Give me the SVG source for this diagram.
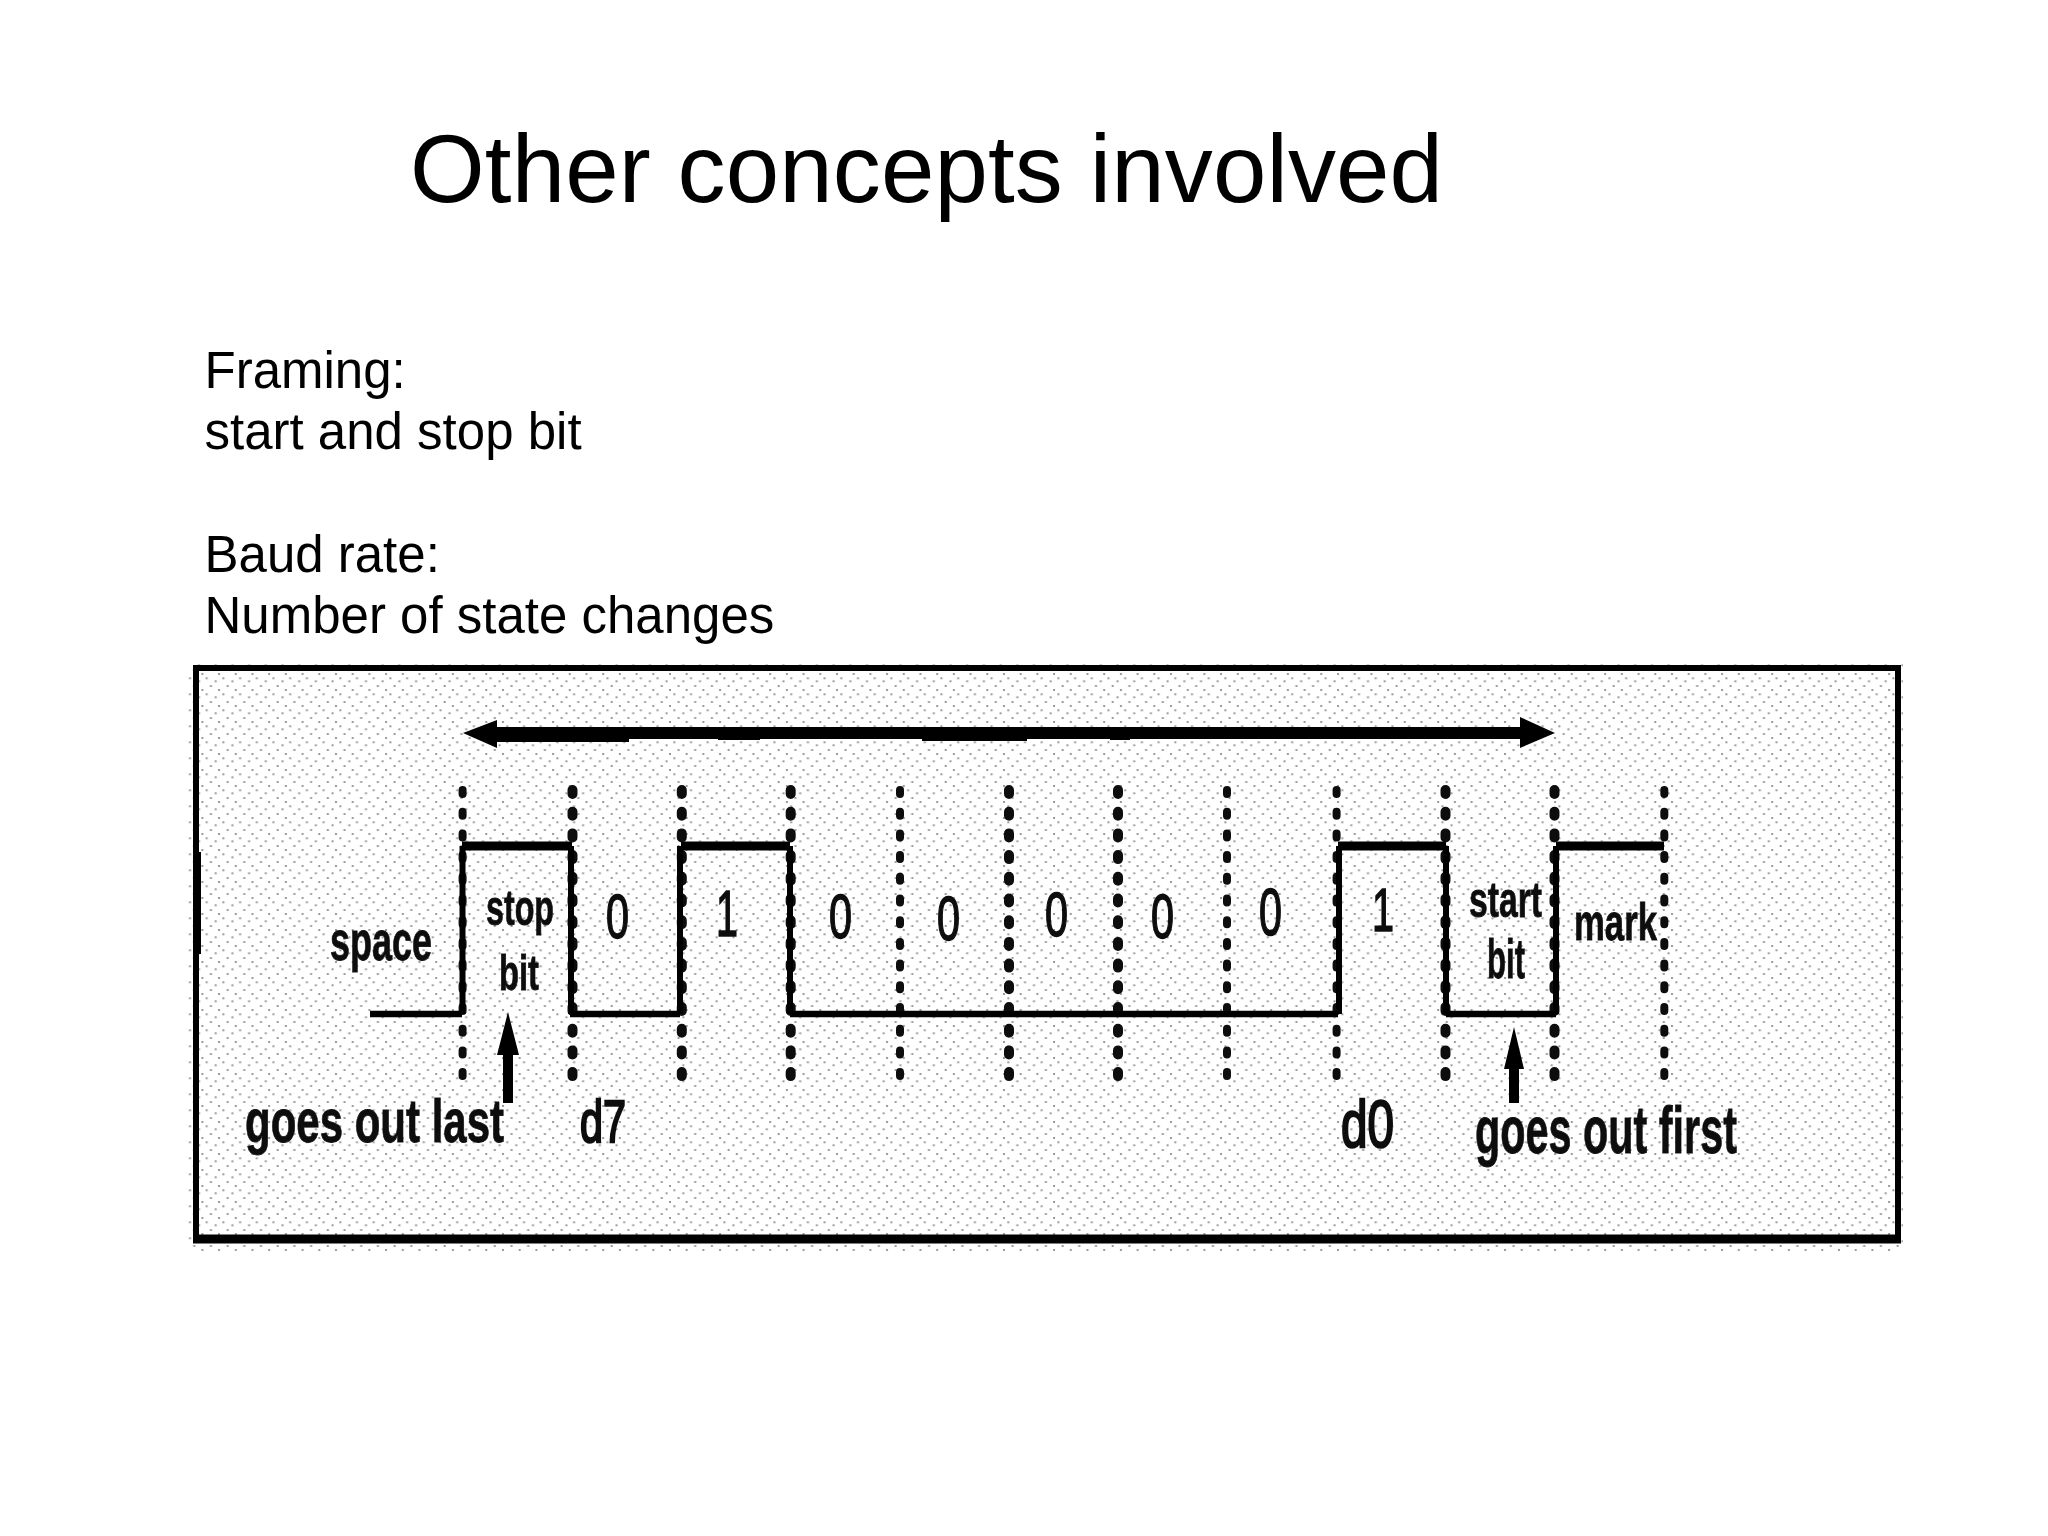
<svg xmlns="http://www.w3.org/2000/svg" width="2048" height="1536" viewBox="0 0 2048 1536">
<style>
.t{font-family:"Liberation Sans",Arial,sans-serif;fill:#000}
.b{font-family:"Liberation Sans",Arial,sans-serif;font-weight:bold;fill:#111;stroke:#111;stroke-width:.8}
.r{font-family:"Liberation Sans",Arial,sans-serif;fill:#111;stroke:#111;stroke-width:1.6}
.d{stroke-width:2.4}
.dot{fill:none;stroke:#111;stroke-width:8;stroke-linecap:round;stroke-dasharray:4 17.7}
.wide{stroke-width:10}
.hi{fill:none;stroke:#000;stroke-width:9}
.lo{fill:none;stroke:#000;stroke-width:6.5}
.ve{fill:none;stroke:#000;stroke-width:6}
</style>
<defs>
<pattern id="halftone" width="16.7" height="16" patternUnits="userSpaceOnUse">
<rect x="1" y="1" width="2" height="2" fill="#9a9a9a"/><rect x="5.3" y="5.3" width="2" height="2" fill="#9a9a9a"/><rect x="14.3" y="8.3" width="2" height="2" fill="#9a9a9a"/><rect x="9.5" y="13" width="2" height="2" fill="#9a9a9a"/>
</pattern>
<filter id="soft"><feGaussianBlur stdDeviation="0.7"/></filter>
</defs>
<rect width="2048" height="1536" fill="#fff"/>
<g id="title"><text class="t" x="410" y="202" font-size="96" textLength="1033">Other concepts involved</text></g>
<g id="body" font-size="51">
<text class="t" x="204.5" y="388">Framing:</text>
<text class="t" x="204.5" y="449">start and stop bit</text>
<text class="t" x="204.5" y="572">Baud rate:</text>
<text class="t" x="204.5" y="633">Number of state changes</text>
</g>
<g id="frame">
<rect x="187" y="664" width="1716" height="587" fill="url(#halftone)"/>
<rect x="196" y="668" width="1702" height="571" fill="none" stroke="#000" stroke-width="6"/>
<line x1="193" y1="1239" x2="1901" y2="1239" stroke="#000" stroke-width="9"/>
<rect x="193" y="852" width="8" height="102" fill="#000"/>
</g>
<g id="connectors" filter="url(#soft)">
<g id="ticks">
<line class="dot" x1="462.6" y1="790" x2="462.6" y2="1078"/>
<line class="dot wide" x1="572.5" y1="790" x2="572.5" y2="1078"/>
<line class="dot wide" x1="681.8" y1="790" x2="681.8" y2="1078"/>
<line class="dot wide" x1="790.7" y1="790" x2="790.7" y2="1078"/>
<line class="dot" x1="900" y1="790" x2="900" y2="1078"/>
<line class="dot wide" x1="1009" y1="790" x2="1009" y2="1078"/>
<line class="dot wide" x1="1118" y1="790" x2="1118" y2="1078"/>
<line class="dot" x1="1227" y1="790" x2="1227" y2="1078"/>
<line class="dot" x1="1336.6" y1="790" x2="1336.6" y2="1078"/>
<line class="dot wide" x1="1445.5" y1="790" x2="1445.5" y2="1078"/>
<line class="dot wide" x1="1554.5" y1="790" x2="1554.5" y2="1078"/>
<line class="dot" x1="1664.3" y1="790" x2="1664.3" y2="1078"/>
</g>
<g id="waveform">
<path class="lo" d="M370 1014H462M570 1014H680M790 1014H1338M1446 1014H1556"/>
<path class="hi" d="M462 846H572M681 846H790M1338 846H1446M1556 846H1664"/>
<path class="ve" d="M462.5 846V1014M571 846V1014M680 846V1014M790 846V1014M1339 846V1014M1446 846V1014M1556 846V1014"/>
</g>
<g id="span-arrow">
<rect x="490" y="727" width="1035" height="12" fill="#000"/>
<rect x="497" y="727" width="132" height="15" fill="#000"/>
<rect x="718" y="735" width="42" height="5" fill="#000"/>
<rect x="922" y="735" width="105" height="6" fill="#000"/>
<rect x="1110" y="735" width="20" height="5" fill="#000"/>
<path d="M463 733L497 720V748Z" fill="#000"/>
<path d="M1555 733L1520 717V748Z" fill="#000"/>
</g>
<path id="arrow-stop" d="M508 1012L519 1055H513V1103H503V1055H497Z" fill="#000"/>
<path id="arrow-start" d="M1514 1027L1524 1069H1519V1103H1509V1069H1504Z" fill="#000"/>
</g>
<g id="labels" filter="url(#soft)">
<text class="b" x="330" y="960" font-size="56" textLength="102" lengthAdjust="spacingAndGlyphs">space</text>
<text class="b" x="486" y="925" font-size="50" textLength="68" lengthAdjust="spacingAndGlyphs">stop</text>
<text class="b" x="499" y="990" font-size="50" textLength="40" lengthAdjust="spacingAndGlyphs">bit</text>
<text class="r" x="606" y="938" font-size="63" textLength="23" lengthAdjust="spacingAndGlyphs">0</text>
<text class="r" x="716" y="936" font-size="65" textLength="22" lengthAdjust="spacingAndGlyphs">1</text>
<text class="r" x="829" y="938" font-size="63" textLength="23" lengthAdjust="spacingAndGlyphs">0</text>
<text class="r" x="937" y="940" font-size="63" textLength="23" lengthAdjust="spacingAndGlyphs">0</text>
<text class="r" x="1045" y="936" font-size="63" textLength="23" lengthAdjust="spacingAndGlyphs">0</text>
<text class="r" x="1151" y="938" font-size="63" textLength="23" lengthAdjust="spacingAndGlyphs">0</text>
<text class="r" x="1259" y="935" font-size="66" textLength="23" lengthAdjust="spacingAndGlyphs">0</text>
<text class="r" x="1372" y="931" font-size="62" textLength="22" lengthAdjust="spacingAndGlyphs">1</text>
<text class="b" x="1469" y="917" font-size="50" textLength="73" lengthAdjust="spacingAndGlyphs">start</text>
<text class="b" x="1487" y="978" font-size="55" textLength="38" lengthAdjust="spacingAndGlyphs">bit</text>
<text class="b" x="1574" y="940" font-size="52" textLength="83" lengthAdjust="spacingAndGlyphs">mark</text>
<text class="b" transform="translate(245 1142) scale(.65 1)" font-size="62" textLength="398.5" lengthAdjust="spacingAndGlyphs">goes out last</text>
<text class="r d" x="580" y="1142" font-size="60" textLength="46" lengthAdjust="spacingAndGlyphs">d7</text>
<text class="r d" x="1341" y="1147" font-size="66" textLength="53" lengthAdjust="spacingAndGlyphs">d0</text>
<text class="b" x="1475" y="1153" font-size="67" textLength="262" lengthAdjust="spacingAndGlyphs">goes out first</text>
</g>
</svg>
